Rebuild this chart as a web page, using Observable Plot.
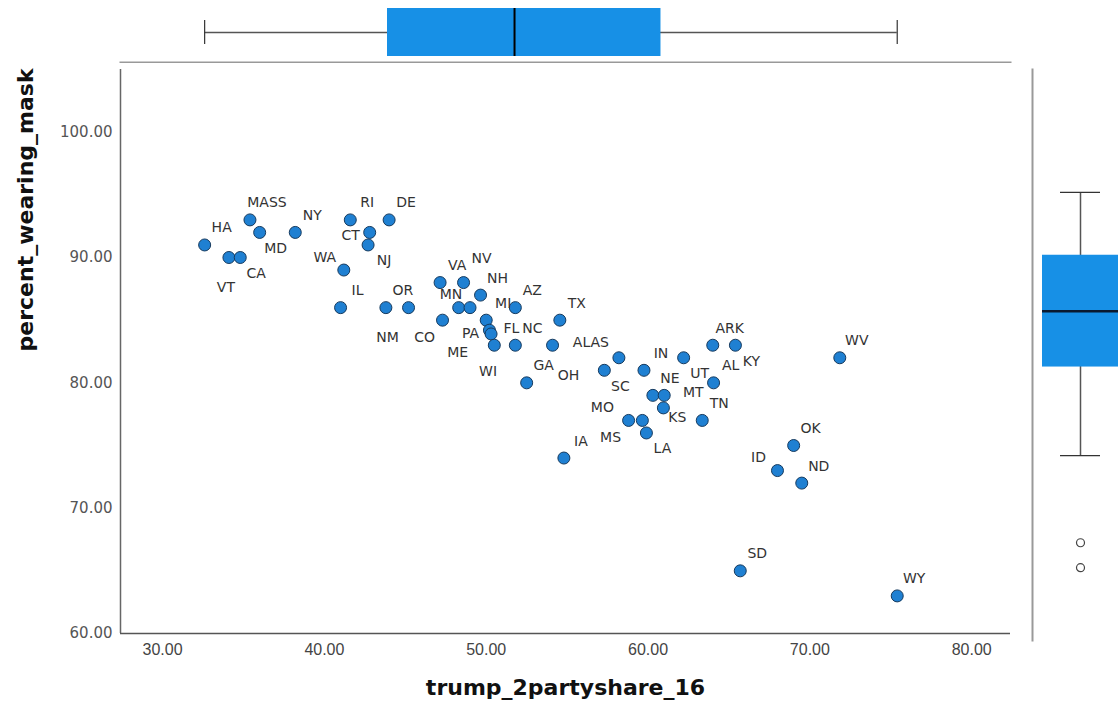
<!DOCTYPE html>
<html>
<head>
<meta charset="utf-8">
<script src="https://cdn.jsdelivr.net/npm/d3@7"></script>
<script src="https://cdn.jsdelivr.net/npm/@observablehq/plot@0.6"></script>
<style>
  body { margin: 0; background: #fff; }
  #chart { position: relative; width: 1120px; height: 707px; overflow: hidden; background: #fff; }
  #chart > svg { position: absolute; }
</style>
</head>
<body>
<div id="chart"></div>
<script>
// ---- data ----
const states = ["HA","VT","CA","MASS","MD","NY","WA","IL","RI","CT",
                "NJ","DE","OR","NM","CO","VA","NV","ME","MN","NH",
                "MI","PA","WI","FL","NC","AZ","GA","OH","TX","ALAS",
                "SC","IN","UT","NE","MT","KS","MS","MO","LA","TN",
                "IA","ARK","KY","AL","WV","OK","ID","ND","SD","WY"];
const trumpShare = [32.6,34.1,34.8,35.4,36.0,38.2,41.2,41.0,41.6,42.8,
                    42.7,44.0,43.8,45.2,47.3,47.15,48.6,48.3,49.0,49.65,
                    50.0,50.2,50.3,50.5,51.8,51.8,52.5,54.1,54.55,58.2,
                    57.3,59.75,62.2,60.3,61.0,60.95,58.8,59.65,59.9,63.35,
                    54.8,64.0,65.4,64.05,71.85,69.0,68.0,69.5,65.7,75.4];
const maskPct = [91,90,90,93,92,92,89,86,93,92,
                 91,93,86,86,85,88,88,86,86,87,
                 85,84.2,83.9,83,83,86,80,83,85,82,
                 81,81,82,79,79,78,77,77,76,77,
                 74,83,83,80,82,75,73,72,65,63];
const xTicks = [30,40,50,60,70,80];
const yTicks = [60,70,80,90,100];
// box plot summaries: [lower whisker, Q1, median, Q3, upper whisker]
const xBoxStats = [32.6, 43.9, 51.75, 60.8, 75.4];
const yBoxStats = [74.2, 81.26, 85.71, 90.18, 95.19];
const yOutliers = [67.24, 65.25];

// label placement groups: [dx, dy, states]
const labelPlacement = [
  [17, -17, ["HA","MASS","NY","RI","DE","IL","OR","VA","NH","MI","AZ","TX","FL","NC","GA","IN","ARK","AL","NE","TN","IA","WV","OK","ND","SD","WY"]],
  [16, 16, ["CA","MD","NJ","KY","UT","SC","LA"]],
  [-19, -13, ["WA","ID","MN"]],
  [-18, 17, ["CO","MS"]],
  [-19, 3, ["PA","CT"]],
  [-3, 30, ["VT"]],
  [-21, 30, ["NM"]],
  [16, 30, ["OH"]],
  [-3, 38, ["WI"]],
  [-1, 45, ["ME"]],
  [18, -24, ["NV"]],
  [29, -3, ["MT"]],
  [14, 10, ["KS"]],
  [-40, -13, ["MO"]],
  [-28, -15, ["ALAS"]]
];

const data = states.map((s, i) => ({state: s, x: trumpShare[i], y: maskPct[i]}));
const xDomain = [27.4, 82.4];
const yDomain = [60, 105];
const boxFill = "#1790e6";
const fmt = d => d.toFixed(2);

const labelMarks = labelPlacement.map(([dx, dy, list]) =>
  Plot.text(data.filter(d => list.includes(d.state)), {
    x: "x", y: "y", text: "state", dx, dy,
    fontSize: 14, fontFamily: "DejaVu Sans", fill: "#333"
  })
);

const main = Plot.plot({
  width: 1120, height: 707,
  marginLeft: 120, marginRight: 110, marginTop: 69, marginBottom: 74,
  x: {domain: xDomain},
  y: {domain: yDomain},
  style: {background: "transparent"},
  marks: [
    Plot.axisX({ticks: xTicks, tickSize: 0, tickPadding: 10, tickFormat: fmt, label: null,
                fontSize: 16, fontFamily: "Liberation Sans", fill: "#444"}),
    Plot.axisY({ticks: yTicks, tickSize: 0, tickPadding: 8, tickFormat: fmt, label: null,
                fontSize: 15, fontFamily: "DejaVu Sans", fill: "#555"}),
    Plot.ruleX([xDomain[0]], {stroke: "#666", strokeWidth: 1.5}),
    Plot.ruleY([yDomain[0]], {stroke: "#555", strokeWidth: 1.5}),
    Plot.dot(data, {x: "x", y: "y", r: 6, fill: "#1f80d2", stroke: "#163a5e", strokeWidth: 1}),
    ...labelMarks,
    Plot.text(["trump_2partyshare_16"], {text: d => d, frameAnchor: "bottom", dy: 61,
      fontSize: 22, fontWeight: "bold", fontFamily: "DejaVu Sans", fill: "#111"}),
    Plot.text(["percent_wearing_mask"], {text: d => d, frameAnchor: "left", dx: -95, rotate: -90,
      fontSize: 22, fontWeight: "bold", fontFamily: "DejaVu Sans", fill: "#111"})
  ]
});

const topBox = Plot.plot({
  width: 1120, height: 63,
  marginLeft: 120, marginRight: 110, marginTop: 0, marginBottom: 1,
  x: {domain: xDomain, axis: null},
  y: {domain: ["box"], range: [8, 56], padding: 0, axis: null},
  style: {background: "transparent"},
  marks: [
    Plot.frame({anchor: "bottom", stroke: "#999", strokeWidth: 2}),
    Plot.ruleY(["box"], {y: d => d, x1: () => xBoxStats[0], x2: () => xBoxStats[4], stroke: "#555", strokeWidth: 1.5}),
    Plot.barX(["box"], {y: d => d, x1: () => xBoxStats[1], x2: () => xBoxStats[3], fill: boxFill}),
    Plot.tickX([xBoxStats[0], xBoxStats[4]], {x: d => d, y: () => "box", insetTop: 12, insetBottom: 12, stroke: "#333", strokeWidth: 1.2}),
    Plot.tickX([xBoxStats[2]], {x: d => d, y: () => "box", stroke: "#000", strokeWidth: 2})
  ]
});

const rightBox = Plot.plot({
  width: 89, height: 707,
  marginLeft: 1, marginRight: 0, marginTop: 69, marginBottom: 67,
  x: {domain: ["box"], range: [11, 87], padding: 0, axis: null},
  y: {domain: yDomain, range: [633, 69], axis: null},
  style: {background: "transparent", overflow: "visible"},
  marks: [
    Plot.frame({anchor: "left", stroke: "#999", strokeWidth: 2}),
    Plot.ruleX(["box"], {x: d => d, y1: () => yBoxStats[0], y2: () => yBoxStats[4], stroke: "#555", strokeWidth: 1.5}),
    Plot.barY(["box"], {x: d => d, y1: () => yBoxStats[1], y2: () => yBoxStats[3], fill: boxFill}),
    Plot.tickY([yBoxStats[0], yBoxStats[4]], {y: d => d, x: () => "box", insetLeft: 18, insetRight: 18, stroke: "#333", strokeWidth: 1.2}),
    Plot.tickY([yBoxStats[2]], {y: d => d, x: () => "box", stroke: "#0a1a30", strokeWidth: 2.5}),
    Plot.dot(yOutliers, {y: d => d, x: () => "box", r: 4, stroke: "#444", fill: "white", strokeWidth: 1.2})
  ]
});

const chart = document.getElementById("chart");
main.style.left = "0px"; main.style.top = "0px";
topBox.style.left = "0px"; topBox.style.top = "0px";
rightBox.style.left = "1031px"; rightBox.style.top = "0px";
chart.append(main, topBox, rightBox);
</script>
</body>
</html>
